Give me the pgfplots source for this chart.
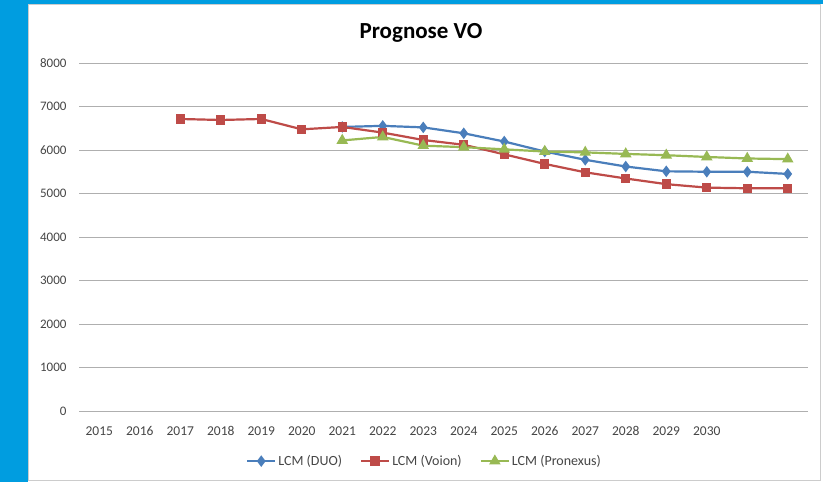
\documentclass[border=0pt]{standalone}
\usepackage{pgfplots}
\pgfplotsset{compat=1.18}
\usepackage{fontspec}
\setmainfont{Carlito}
\definecolor{framebl}{RGB}{0,157,224}
\definecolor{sBlue}{RGB}{74,126,187}
\definecolor{sRed}{RGB}{190,75,72}
\definecolor{sGreen}{RGB}{152,185,84}
\definecolor{gridc}{RGB}{175,175,175}
\definecolor{labc}{RGB}{70,70,70}
\begin{document}
\begin{tikzpicture}[x=1pt,y=1pt]
\useasboundingbox (0,0) rectangle (823,482);
\fill[framebl] (0,0) rectangle (823,482);
\fill[white] (28,0) rectangle (823,478);
\draw[gray!40, line width=1pt] (28.5,1.5) rectangle (820.5,477.5);
\node[font=\bfseries\fontsize{23}{26}\selectfont] at (421,449) {Prognose VO};
\begin{axis}[
  at={(79pt,71pt)}, anchor=south west,
  width=729pt, height=348pt, scale only axis,
  xmin=-0.5, xmax=17.5, ymin=0, ymax=8000,
  axis line style={draw=none},
  tick style={draw=none},
  ymajorgrids, major grid style={gridc, line width=0.9pt},
  ytick={0,1000,...,8000},
  xtick={0,...,15},
  xticklabels={2015,2016,2017,2018,2019,2020,2021,2022,2023,2024,2025,2026,2027,2028,2029,2030},
  /pgf/number format/assume math mode=true,
  /pgf/number format/1000 sep={},
  yticklabel style={font=\fontsize{13}{14}\selectfont, text=labc, xshift=-9pt},
  xticklabel style={font=\fontsize{13.5}{14}\selectfont, text=labc, yshift=-12pt},
  legend style={at={(0.474,-0.144)}, anchor=center, draw=none, fill=none,
    font=\fontsize{14}{15}\selectfont, text=labc, legend columns=3,
    /tikz/every even column/.append style={column sep=16pt}},
  legend image code/.code={\draw[mark repeat=2,mark phase=2] plot coordinates {(0pt,0pt)(14pt,0pt)(28pt,0pt)};},
]
\addplot[sBlue, line width=2.2pt, mark=diamond*, mark size=4pt] coordinates {
(6,6530)(7,6555)(8,6520)(9,6384)(10,6195)(11,5965)(12,5775)(13,5620)(14,5510)(15,5500)(16,5500)(17,5450)};
\addlegendentry{LCM (DUO)}
\addplot[sRed, line width=2.2pt, mark=square*, mark size=3.6pt] coordinates {
(2,6713)(3,6690)(4,6713)(5,6475)(6,6530)(7,6400)(8,6230)(9,6120)(10,5900)(11,5680)(12,5487)(13,5345)(14,5215)(15,5135)(16,5120)(17,5120)};
\addlegendentry{LCM (Voion)}
\addplot[sGreen, line width=2.2pt, mark=triangle*, mark size=4.5pt] coordinates {
(6,6220)(7,6300)(8,6100)(9,6065)(10,6015)(11,5965)(12,5945)(13,5910)(14,5880)(15,5840)(16,5805)(17,5790)};
\addlegendentry{LCM (Pronexus)}
\end{axis}
\end{tikzpicture}
\end{document}
